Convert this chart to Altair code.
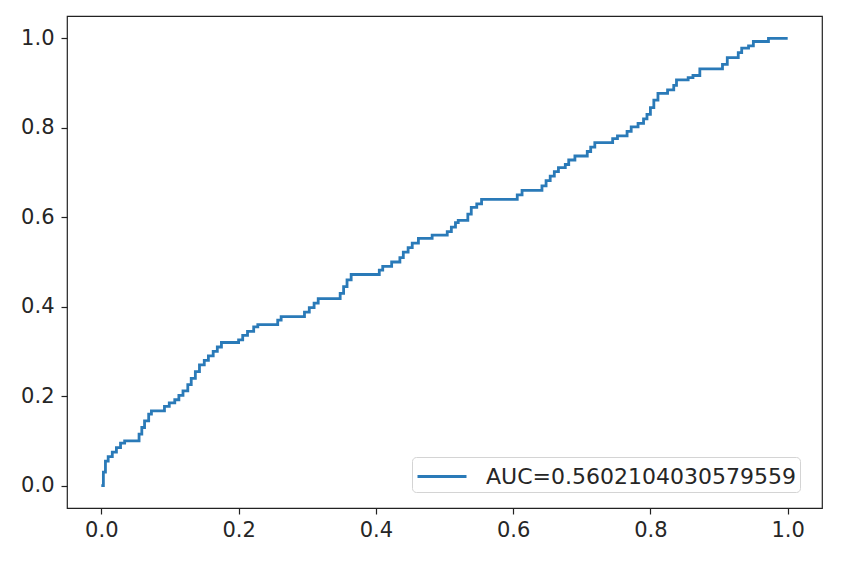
import altair as alt
import pandas as pd

fpr = [0.000, 0.003, 0.003, 0.006, 0.006, 0.010, 0.010, 0.016, 0.016, 0.022, 0.022, 0.028, 0.028, 0.034, 0.034,
       0.055, 0.055, 0.059, 0.059, 0.063, 0.063, 0.069, 0.069, 0.073, 0.073, 0.092, 0.092, 0.099, 0.099,
       0.107, 0.107, 0.113, 0.113, 0.119, 0.119, 0.126, 0.126, 0.131, 0.131, 0.137, 0.137, 0.143, 0.143,
       0.150, 0.150, 0.156, 0.156, 0.163, 0.163, 0.169, 0.169, 0.175, 0.175, 0.200, 0.200, 0.206, 0.206,
       0.213, 0.213, 0.222, 0.222, 0.228, 0.228, 0.257, 0.257, 0.262, 0.262, 0.296, 0.296, 0.303, 0.303,
       0.310, 0.310, 0.316, 0.316, 0.348, 0.348, 0.353, 0.353, 0.358, 0.358, 0.364, 0.364, 0.405, 0.405,
       0.410, 0.410, 0.423, 0.423, 0.435, 0.435, 0.440, 0.440, 0.447, 0.447, 0.453, 0.453, 0.462, 0.462,
       0.482, 0.482, 0.504, 0.504, 0.510, 0.510, 0.516, 0.516, 0.520, 0.520, 0.534, 0.534, 0.539, 0.539,
       0.547, 0.547, 0.554, 0.554, 0.606, 0.606, 0.613, 0.613, 0.642, 0.642, 0.648, 0.648, 0.654, 0.654,
       0.660, 0.660, 0.666, 0.666, 0.676, 0.676, 0.681, 0.681, 0.690, 0.690, 0.708, 0.708, 0.713, 0.713,
       0.719, 0.719, 0.745, 0.745, 0.752, 0.752, 0.766, 0.766, 0.772, 0.772, 0.782, 0.782, 0.790, 0.790,
       0.795, 0.795, 0.800, 0.800, 0.805, 0.805, 0.811, 0.811, 0.825, 0.825, 0.834, 0.834, 0.838, 0.838,
       0.855, 0.855, 0.862, 0.862, 0.872, 0.872, 0.905, 0.905, 0.912, 0.912, 0.928, 0.928, 0.933, 0.933,
       0.943, 0.943, 0.950, 0.950, 0.972, 0.972, 1.000]
tpr = [0.000, 0.000, 0.030, 0.030, 0.055, 0.055, 0.065, 0.065, 0.075, 0.075, 0.085, 0.085, 0.095, 0.095, 0.100,
       0.100, 0.115, 0.115, 0.130, 0.130, 0.145, 0.145, 0.160, 0.160, 0.167, 0.167, 0.177, 0.177, 0.185,
       0.185, 0.192, 0.192, 0.202, 0.202, 0.212, 0.212, 0.226, 0.226, 0.240, 0.240, 0.255, 0.255, 0.270,
       0.270, 0.280, 0.280, 0.290, 0.290, 0.300, 0.300, 0.310, 0.310, 0.320, 0.320, 0.326, 0.326, 0.336,
       0.336, 0.345, 0.345, 0.355, 0.355, 0.360, 0.360, 0.370, 0.370, 0.378, 0.378, 0.388, 0.388, 0.398,
       0.398, 0.408, 0.408, 0.418, 0.418, 0.430, 0.430, 0.445, 0.445, 0.460, 0.460, 0.472, 0.472, 0.482,
       0.482, 0.490, 0.490, 0.500, 0.500, 0.510, 0.510, 0.522, 0.522, 0.532, 0.532, 0.542, 0.542, 0.553,
       0.553, 0.560, 0.560, 0.568, 0.568, 0.578, 0.578, 0.588, 0.588, 0.593, 0.593, 0.607, 0.607, 0.622,
       0.622, 0.630, 0.630, 0.640, 0.640, 0.650, 0.650, 0.660, 0.660, 0.670, 0.670, 0.682, 0.682, 0.692,
       0.692, 0.702, 0.702, 0.711, 0.711, 0.718, 0.718, 0.728, 0.728, 0.737, 0.737, 0.747, 0.747, 0.757,
       0.757, 0.767, 0.767, 0.776, 0.776, 0.782, 0.782, 0.792, 0.792, 0.802, 0.802, 0.810, 0.810, 0.820,
       0.820, 0.830, 0.830, 0.845, 0.845, 0.862, 0.862, 0.877, 0.877, 0.885, 0.885, 0.895, 0.895, 0.907,
       0.907, 0.912, 0.912, 0.917, 0.917, 0.932, 0.932, 0.942, 0.942, 0.957, 0.957, 0.968, 0.968, 0.978,
       0.978, 0.983, 0.983, 0.993, 0.993, 1.000, 1.000]

auc_label = "AUC=0.5602104030579559"
tick_values = [0.0, 0.2, 0.4, 0.6, 0.8, 1.0]

df = pd.DataFrame({"fpr": fpr, "tpr": tpr, "order": list(range(len(fpr)))})
df["series"] = auc_label

font = "DejaVu Sans"

chart = alt.Chart(df).mark_line(strokeWidth=2.8, color="#2a7ab8").encode(
    x=alt.X("fpr:Q",
            scale=alt.Scale(domain=[-0.05, 1.05], nice=False, zero=False),
            axis=alt.Axis(values=tick_values, format=".1f", title=None, grid=False, domain=False,
                          tickSize=6, tickColor="#222", tickWidth=1.2, labelPadding=5,
                          labelFontSize=21, labelColor="#262626", labelFont=font)),
    y=alt.Y("tpr:Q",
            scale=alt.Scale(domain=[-0.05, 1.05], nice=False, zero=False),
            axis=alt.Axis(values=tick_values, format=".1f", title=None, grid=False, domain=False,
                          tickSize=6, tickColor="#222", tickWidth=1.2, labelPadding=7,
                          labelFontSize=21, labelColor="#262626", labelFont=font)),
    order="order:Q",
    color=alt.Color("series:N",
                    scale=alt.Scale(range=["#2a7ab8"]),
                    legend=alt.Legend(title=None, orient="none", legendX=345, legendY=441,
                                      symbolType="M-1,0H2.5", symbolSize=784, symbolStrokeWidth=3,
                                      symbolFillColor="transparent",
                                      labelFontSize=22, labelFont=font, labelColor="#262626",
                                      labelOffset=39, padding=4, strokeColor="#d4d4d4",
                                      fillColor="white", cornerRadius=4, labelLimit=500,
                                      rowPadding=0)),
).properties(
    width=755,
    height=492,
    background="white",
    autosize=alt.AutoSizeParams(type="none"),
    padding={"left": 67, "top": 16, "right": 19, "bottom": 58},
).configure_view(
    stroke="#222", strokeWidth=1.2
)

chart.save("out.html", embed_options={"renderer": "svg", "actions": False})
